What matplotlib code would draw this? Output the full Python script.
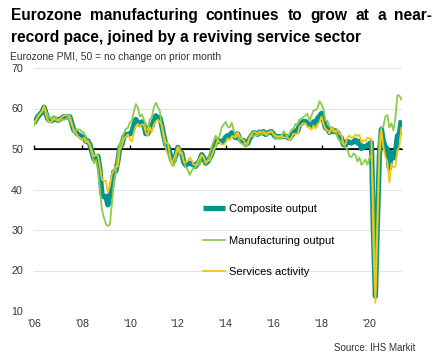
import matplotlib
matplotlib.use("Agg")
import matplotlib.pyplot as plt
import numpy as np
import pandas as pd

# ---------------- data (monthly, Jan 2006 - May 2021) ----------------
composite = [
    56.4, 57.2, 58.0, 58.6, 59.1, 60.3, 58.8, 57.4, 57.0, 57.0, 57.6, 57.3,
    57.1, 57.3, 57.7, 58.0, 57.9, 58.0, 57.9, 56.2, 54.6, 54.2, 53.6, 53.3,
    52.8, 53.0, 51.9, 52.0, 51.1, 49.3, 47.5, 47.6, 48.2, 45.1, 38.9, 38.2,
    38.3, 36.2, 38.3, 41.1, 44.4, 44.6, 47.0, 50.4, 51.1, 53.0, 53.6, 53.6,
    53.7, 54.1, 55.9, 57.3, 56.4, 56.0, 56.7, 56.2, 53.8, 53.8, 55.4, 55.5,
    57.0, 58.2, 57.6, 57.8, 55.8, 53.3, 51.1, 50.7, 49.1, 47.2, 47.0, 48.3,
    50.4, 49.3, 49.1, 46.7, 46.0, 46.4, 46.5, 46.3, 46.1, 45.7, 46.5, 47.2,
    48.6, 47.9, 46.5, 46.9, 47.7, 48.7, 50.5, 51.5, 52.2, 51.9, 51.7, 52.1,
    52.9, 53.3, 53.1, 54.0, 53.5, 52.8, 53.8, 52.5, 52.0, 52.1, 51.1, 51.4,
    52.6, 53.3, 54.0, 53.9, 53.6, 54.2, 53.9, 54.3, 53.6, 53.9, 54.2, 54.3,
    53.6, 53.0, 53.1, 53.0, 53.1, 53.1, 53.2, 52.9, 52.6, 53.3, 53.9, 54.4,
    54.4, 56.0, 56.4, 56.8, 56.8, 56.3, 55.7, 55.7, 56.7, 56.0, 57.5, 58.1,
    58.8, 57.1, 55.2, 55.1, 54.1, 54.9, 54.3, 54.5, 54.1, 53.1, 52.7, 51.1,
    51.0, 51.9, 51.6, 51.5, 51.8, 52.2, 51.5, 51.9, 50.1, 50.6, 50.6, 50.9,
    51.3, 51.6, 29.7, 13.6, 31.9, 48.5, 54.9, 51.9, 50.4, 50.0, 45.3, 49.1,
    47.8, 48.8, 53.2, 53.8, 57.1,
]
manufacturing = [
    55.8, 57.1, 57.7, 58.8, 59.2, 60.6, 59.3, 58.2, 57.6, 57.3, 58.0, 58.0,
    56.8, 56.9, 57.3, 57.2, 57.4, 57.8, 57.0, 55.9, 54.8, 54.5, 54.9, 54.8,
    54.2, 54.1, 52.6, 51.8, 50.6, 48.8, 46.5, 47.3, 44.7, 40.2, 35.1, 33.1,
    31.5, 31.0, 31.3, 36.5, 41.7, 44.3, 48.9, 51.2, 52.3, 53.8, 55.0, 55.2,
    56.5, 57.0, 59.2, 61.1, 60.2, 58.0, 58.6, 57.3, 55.3, 54.6, 57.3, 57.8,
    60.2, 61.4, 60.4, 59.4, 55.2, 52.3, 50.1, 48.8, 47.8, 46.0, 45.8, 47.2,
    50.5, 50.0, 48.7, 46.9, 45.6, 44.9, 43.6, 44.7, 45.2, 45.4, 46.2, 46.1,
    48.6, 48.0, 46.9, 47.0, 49.0, 50.5, 52.0, 53.3, 52.3, 53.3, 55.3, 56.0,
    56.7, 55.5, 55.3, 56.5, 54.6, 53.3, 53.5, 51.8, 51.3, 51.2, 50.6, 50.9,
    53.1, 53.1, 53.3, 53.5, 53.3, 53.7, 53.4, 53.9, 53.5, 53.4, 54.2, 54.6,
    53.6, 52.5, 52.8, 52.6, 52.8, 54.4, 53.6, 53.2, 53.8, 54.8, 55.0, 56.2,
    56.1, 57.3, 57.5, 57.9, 58.3, 58.7, 56.9, 58.3, 59.5, 59.6, 60.1, 61.8,
    61.0, 59.8, 57.0, 56.9, 55.5, 55.1, 55.1, 54.4, 53.0, 52.0, 51.8, 51.0,
    50.5, 49.8, 48.2, 48.0, 48.9, 48.5, 46.9, 47.9, 46.1, 46.6, 47.4, 46.1,
    47.8, 48.7, 38.5, 14.5, 33.0, 52.5, 55.3, 55.6, 58.0, 58.4, 55.3, 56.3,
    54.6, 57.6, 63.3, 63.2, 62.2,
]
services = [
    56.6, 57.0, 58.2, 58.6, 59.2, 60.5, 58.5, 57.0, 56.6, 56.8, 57.6, 57.1,
    57.2, 57.5, 57.8, 58.3, 58.3, 58.3, 58.0, 56.3, 54.2, 54.0, 53.1, 52.8,
    52.4, 52.7, 51.6, 52.0, 51.1, 49.5, 48.2, 48.5, 48.4, 45.8, 42.5, 42.1,
    42.2, 39.2, 40.9, 43.8, 44.8, 45.7, 45.7, 49.9, 50.9, 52.6, 53.0, 53.6,
    52.5, 51.8, 54.1, 55.6, 56.2, 55.5, 56.1, 55.9, 54.1, 53.3, 55.4, 54.2,
    55.9, 56.8, 57.2, 56.7, 56.0, 53.7, 51.6, 51.5, 48.8, 46.4, 47.5, 48.8,
    50.5, 48.8, 49.2, 46.9, 46.7, 47.1, 47.9, 47.2, 46.1, 46.0, 46.7, 47.8,
    48.6, 47.9, 46.4, 47.0, 47.2, 48.3, 49.8, 50.7, 52.2, 51.6, 51.2, 51.0,
    51.6, 52.6, 52.2, 53.1, 53.2, 52.8, 54.2, 53.1, 52.4, 52.3, 51.1, 51.6,
    52.7, 53.7, 54.2, 54.1, 53.8, 54.4, 54.0, 54.4, 53.7, 54.1, 54.2, 54.2,
    53.6, 53.3, 53.1, 53.1, 53.3, 52.8, 52.9, 52.8, 52.2, 52.8, 53.8, 53.7,
    53.7, 55.5, 56.0, 56.4, 56.3, 55.4, 55.4, 54.7, 55.8, 55.0, 56.2, 56.6,
    58.0, 56.2, 54.9, 54.7, 53.8, 55.2, 54.2, 54.4, 54.7, 53.7, 53.4, 51.2,
    51.2, 52.8, 53.3, 52.8, 52.9, 53.6, 53.2, 53.5, 51.6, 52.2, 51.9, 52.8,
    52.5, 52.6, 26.4, 12.0, 30.5, 48.3, 54.7, 50.5, 48.0, 46.9, 41.7, 46.4,
    45.4, 45.7, 49.6, 50.5, 55.2,
]
series_labels = ["Composite output", "Manufacturing output", "Services activity"]
tick_years = [2006, 2008, 2010, 2012, 2014, 2016, 2018, 2020]
tick_labels = ["'06", "'08", "'10", "'12", "'14", "'16", "'18", "'20"]
y_ticks = [10, 20, 30, 40, 50, 60, 70]

title_line1 = "Eurozone manufacturing continues to grow at a near-"
title_line2 = "record pace, joined by a reviving service sector"
subtitle = "Eurozone PMI, 50 = no change on prior month"
source = "Source: IHS Markit"

# ---------------- figure ----------------
plt.rcParams['font.family'] = ['Liberation Sans', 'DejaVu Sans']
W, H = 443, 359
fig = plt.figure(figsize=(W / 100, H / 100), dpi=100)
fig.patch.set_facecolor('white')

dates = pd.date_range("2006-01-01", periods=len(composite), freq="MS")
x = dates.year + (dates.month - 1) / 12.0

ax = fig.add_axes([34 / W, 1 - 311 / H, (402 - 34) / W, (311 - 68) / H])
ax.set_xlim(2006.0, 2021.36)
ax.set_ylim(10, 70)

teal = '#00958F'
green = '#8DCB4B'
gold = '#F5C518'

l1, = ax.plot(x, composite, color=teal, lw=3.8, solid_capstyle='butt', zorder=3,
              label=series_labels[0])
l2, = ax.plot(x, manufacturing, color=green, lw=1.3, zorder=4, label=series_labels[1])
l3, = ax.plot(x, services, color=gold, lw=1.3, zorder=5, label=series_labels[2])

# grid
for yv in y_ticks:
    if yv != 50:
        ax.axhline(yv, color='#e3e3e3', lw=0.8, zorder=1)
ax.axhline(50, color='black', lw=1.2, zorder=2)

for s in ax.spines.values():
    s.set_visible(False)
ax.set_yticks(y_ticks)
ax.set_yticklabels([str(v) for v in y_ticks], fontsize=7.7, color='#333333')
ax.tick_params(axis='y', length=0, pad=8)
ax.set_xticks(tick_years)
ax.set_xticklabels(tick_labels, fontsize=7.7, color='#333333')
ax.tick_params(axis='x', length=0, pad=6)

# tick marks on the 50 line
sec = ax.secondary_xaxis((50 - 10) / 60)
sec.set_xticks(tick_years)
sec.set_xticklabels([])
sec.tick_params(axis='x', direction='out', length=3, width=1, color='black')
sec.spines['bottom'].set_visible(False)

# legend
leg = ax.legend(handles=[l1, l2, l3], loc='upper left',
                bbox_to_anchor=(203 / W, 1 - 204 / H), bbox_transform=fig.transFigure,
                frameon=False, fontsize=8, handlelength=2.0, handletextpad=0.3,
                labelspacing=1.95, borderpad=0, borderaxespad=0)
for t in leg.get_texts():
    t.set_color('black')

# title: line 1 justified between x=11 and x=432
renderer = fig.canvas.get_renderer()
words = title_line1.split(" ")
tfs = 11.2
texts = []
widths = []
for w in words:
    t = fig.text(0, 0, w, fontsize=tfs, fontweight='bold', va='baseline', ha='left')
    bb = t.get_window_extent(renderer=renderer)
    texts.append(t)
    widths.append(bb.width)
x0, x1 = 11, 432
gap = (x1 - x0 - sum(widths)) / (len(words) - 1)
cx = x0
for t, wd in zip(texts, widths):
    t.set_position((cx / W, 1 - 20 / H))
    cx += wd + gap

fig.text(11 / W, 1 - 42 / H, title_line2, fontsize=tfs, fontweight='bold',
         va='baseline', ha='left')
fig.text(10 / W, 1 - 60 / H, subtitle, fontsize=7.4, color='#333333',
         va='baseline', ha='left')
fig.text(415 / W, 1 - 351 / H, source, fontsize=7, color='#333333',
         va='baseline', ha='right')

fig.savefig("out.png", dpi=100)
